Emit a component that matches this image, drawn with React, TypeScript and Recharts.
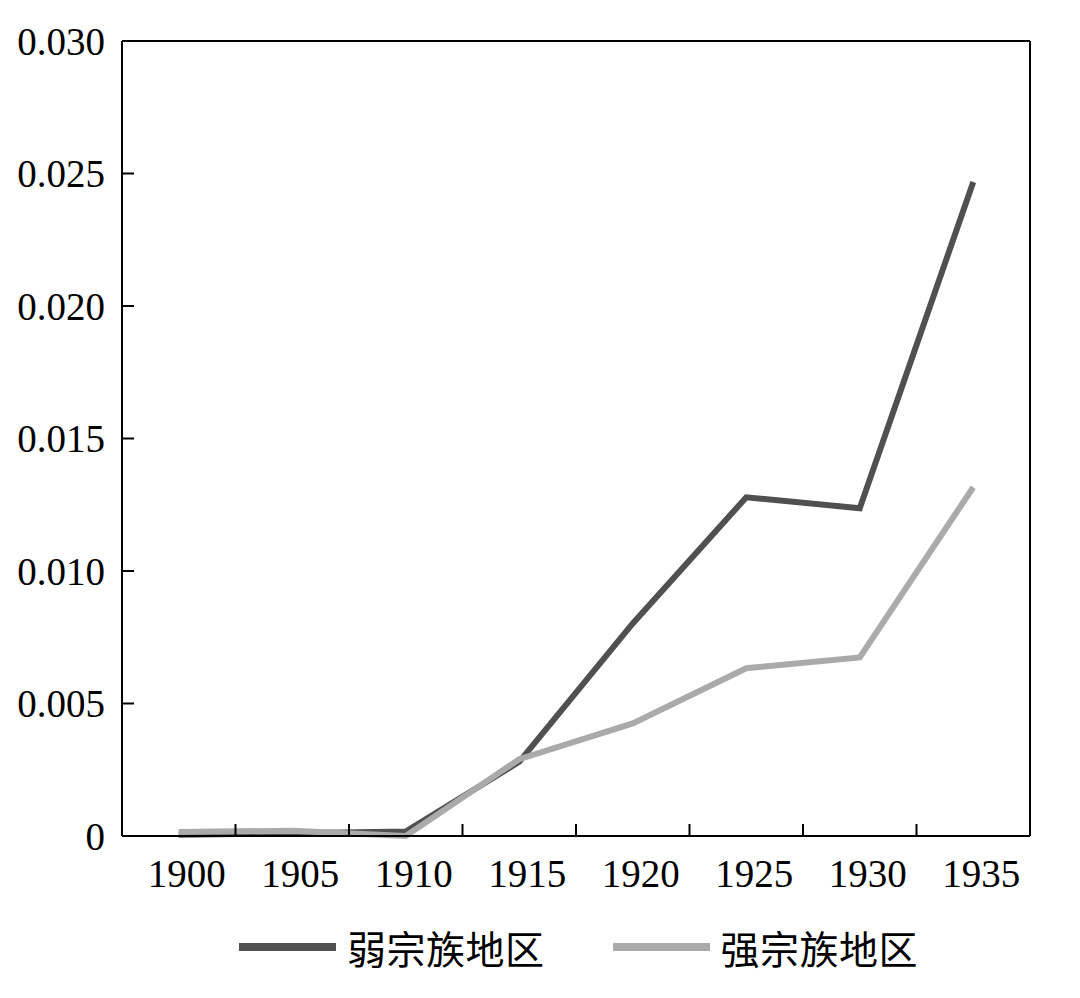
import { LineChart, Line, XAxis, YAxis, ReferenceLine, Legend } from 'recharts';

const YEARS = ['1900', '1905', '1910', '1915', '1920', '1925', '1930', '1935'];
const WEAK_CLAN = [0.00005, 0.0001, 0.00017, 0.0028, 0.00802, 0.01278, 0.01237, 0.02468];
const STRONG_CLAN = [0.00015, 0.0002, 0.0, 0.0029, 0.00425, 0.00633, 0.00674, 0.01316];
const Y_TICKS = [0, 0.005, 0.01, 0.015, 0.02, 0.025, 0.03];
const SERIES = [
  { key: 'weak', name: '弱宗族地区', color: '#505050' },
  { key: 'strong', name: '强宗族地区', color: '#aaaaaa' },
];

const data = YEARS.map((year, i) => ({
  pos: i + 0.5,
  year,
  weak: WEAK_CLAN[i],
  strong: STRONG_CLAN[i],
}));

const boundaryTicks = YEARS.map((_, i) => i).concat(YEARS.length);

const SERIF = '"Liberation Serif", "Times New Roman", serif';

// x ticks sit on band edges, labels go in the middle of each band
const YearTick = (props: any) => {
  const { x, payload, width } = props;
  const i = payload?.value;
  if (i == null || i >= YEARS.length) return null;
  const band = (width ?? 908) / YEARS.length;
  return (
    <text
      x={x + band / 2 + 8}
      y={836 + 51}
      textAnchor="middle"
      fontFamily={SERIF}
      fontSize={39}
      fill="#000"
    >
      {YEARS[i]}
    </text>
  );
};

const LegendBox = () => (
  <div
    style={{
      height: 70,
      display: 'flex',
      alignItems: 'center',
      paddingLeft: 239,
      paddingTop: 12,
      boxSizing: 'border-box',
      fontFamily: '"Noto Sans CJK SC", sans-serif',
    }}
  >
    {SERIES.map((s, i) => (
      <span
        key={s.key}
        style={{ display: 'inline-flex', alignItems: 'center', marginRight: i === 0 ? 68 : 0 }}
      >
        <span style={{ display: 'inline-block', width: 97, height: 8, background: s.color, marginRight: 11 }} />
        <span style={{ fontSize: 39, color: '#000', lineHeight: 1, letterSpacing: 0.5 }}>{s.name}</span>
      </span>
    ))}
  </div>
);

export default function App() {
  return (
    <div style={{ position: 'absolute', left: 0, top: 0, width: 1080, height: 998, background: '#fff' }}>
      <LineChart
        width={1080}
        height={998}
        data={data}
        margin={{ top: 41, right: 50, bottom: 22, left: 0 }}
      >
        <XAxis
          dataKey="pos"
          type="number"
          domain={[0, YEARS.length]}
          ticks={boundaryTicks}
          interval={0}
          height={70}
          tickSize={-12}
          tick={<YearTick />}
          axisLine={{ stroke: '#000', strokeWidth: 2 }}
          tickLine={{ stroke: '#000', strokeWidth: 2 }}
        />
        <YAxis
          type="number"
          domain={[0, 0.03]}
          ticks={Y_TICKS}
          interval={0}
          width={122}
          tickSize={-12}
          tickMargin={29}
          tickFormatter={(v: number) => (v === 0 ? '0' : v.toFixed(3))}
          tick={{ fill: '#000', fontSize: 39, fontFamily: SERIF }}
          axisLine={{ stroke: '#000', strokeWidth: 2 }}
          tickLine={{ stroke: '#000', strokeWidth: 2 }}
        />
        <ReferenceLine y={0.03} stroke="#000" strokeWidth={2} />
        <ReferenceLine x={YEARS.length} stroke="#000" strokeWidth={2} />
        {SERIES.map((s) => (
          <Line
            key={s.key}
            type="linear"
            dataKey={s.key}
            name={s.name}
            stroke={s.color}
            strokeWidth={6}
            dot={false}
            activeDot={false}
            isAnimationActive={false}
          />
        ))}
        <Legend verticalAlign="bottom" wrapperStyle={{ left: 0, width: 1080 }} content={<LegendBox />} />
      </LineChart>
    </div>
  );
}
